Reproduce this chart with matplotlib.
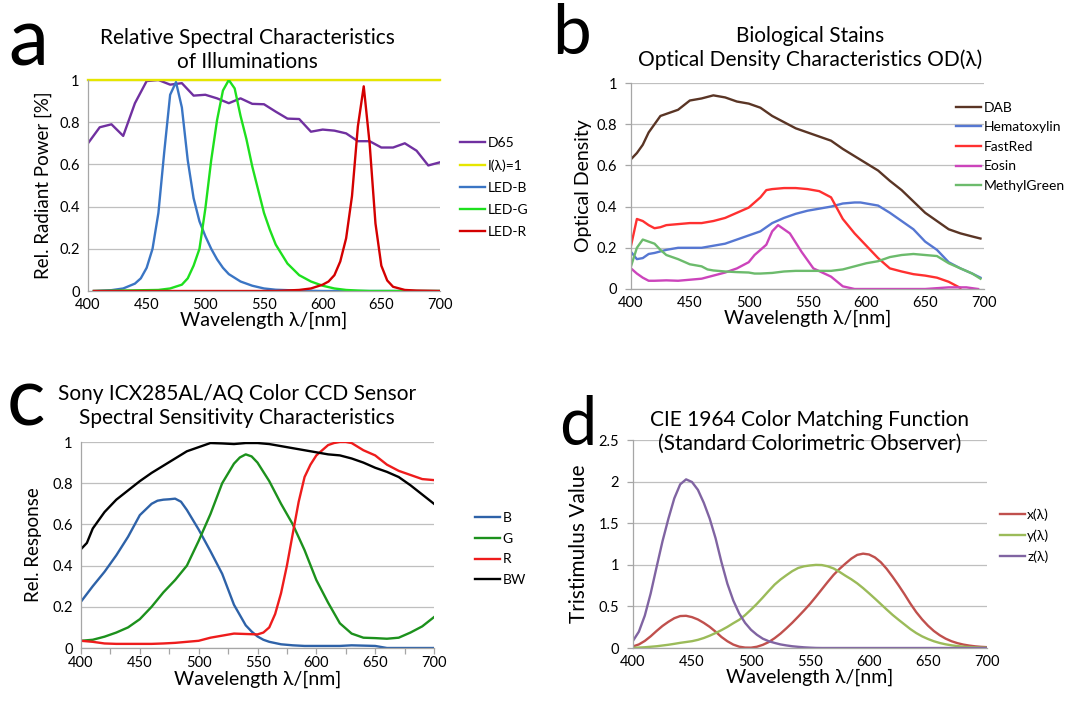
import matplotlib
matplotlib.use('Agg')
import matplotlib.pyplot as plt

plt.rcParams['font.family'] = ['Lato', 'DejaVu Sans']

W, H = 1067, 702

# ---- panel a: illuminations ----
wl_d65 = list(range(400, 701, 10))
d65 = [0.70, 0.776, 0.79, 0.735, 0.89, 0.995, 1.0, 0.978, 0.985, 0.926, 0.93,
       0.913, 0.89, 0.913, 0.887, 0.885, 0.85, 0.817, 0.815, 0.755, 0.765,
       0.76, 0.747, 0.71, 0.71, 0.68, 0.68, 0.70, 0.665, 0.595, 0.61]
wl_flat = [400, 700]
flat = [1.0, 1.0]
wl_led_b = [405, 420, 430, 440, 445, 450, 455, 460, 465, 470, 475, 480, 485,
            490, 495, 500, 505, 510, 515, 520, 530, 540, 550, 560, 580, 600, 700]
led_b = [0.0, 0.004, 0.012, 0.035, 0.06, 0.11, 0.20, 0.37, 0.66, 0.93, 0.99,
         0.87, 0.62, 0.44, 0.33, 0.26, 0.20, 0.15, 0.11, 0.08, 0.045, 0.025,
         0.012, 0.006, 0.002, 0.0, 0.0]
wl_led_g = [405, 460, 470, 480, 485, 490, 495, 500, 505, 510, 515, 520, 525,
            530, 535, 540, 545, 550, 555, 560, 570, 580, 590, 600, 610, 620,
            630, 640, 700]
led_g = [0.0, 0.005, 0.012, 0.03, 0.06, 0.12, 0.20, 0.39, 0.62, 0.81, 0.95,
         1.0, 0.96, 0.83, 0.72, 0.59, 0.48, 0.37, 0.29, 0.22, 0.13, 0.075,
         0.045, 0.025, 0.012, 0.005, 0.002, 0.0, 0.0]
wl_led_r = [405, 560, 580, 590, 600, 605, 610, 615, 620, 625, 630, 635, 640,
            645, 650, 655, 660, 670, 680, 700]
led_r = [0.0, 0.0, 0.005, 0.012, 0.03, 0.045, 0.075, 0.14, 0.25, 0.45, 0.78,
         0.97, 0.70, 0.32, 0.12, 0.05, 0.02, 0.005, 0.002, 0.0]

# ---- panel b: stains ----
wl_dab = [400, 405, 410, 415, 420, 425, 430, 440, 450, 460, 470, 475, 480,
          490, 500, 510, 520, 530, 540, 550, 560, 570, 580, 590, 600, 610,
          620, 630, 640, 650, 660, 670, 680, 690, 697]
dab = [0.63, 0.66, 0.70, 0.76, 0.80, 0.84, 0.85, 0.87, 0.915, 0.925, 0.94,
       0.935, 0.93, 0.91, 0.90, 0.88, 0.84, 0.81, 0.78, 0.76, 0.74, 0.72,
       0.68, 0.645, 0.61, 0.575, 0.525, 0.48, 0.425, 0.37, 0.33, 0.29, 0.27,
       0.255, 0.245]
wl_hema = [400, 405, 410, 415, 420, 430, 440, 450, 460, 470, 480, 490, 500,
           510, 515, 520, 530, 540, 550, 560, 570, 580, 590, 595, 600, 610,
           620, 630, 640, 650, 660, 670, 680, 690, 697]
hema = [0.18, 0.145, 0.15, 0.17, 0.175, 0.19, 0.20, 0.20, 0.20, 0.21, 0.22,
        0.24, 0.26, 0.28, 0.30, 0.32, 0.345, 0.365, 0.38, 0.39, 0.40, 0.415,
        0.42, 0.42, 0.415, 0.405, 0.37, 0.33, 0.29, 0.23, 0.19, 0.13, 0.10,
        0.075, 0.055]
wl_fastred = [400, 405, 410, 415, 420, 425, 430, 440, 450, 460, 470, 480, 490,
              500, 505, 510, 515, 520, 530, 540, 550, 560, 570, 580, 590, 600,
              610, 620, 630, 640, 650, 660, 670, 680]
fastred = [0.21, 0.34, 0.33, 0.31, 0.295, 0.30, 0.31, 0.315, 0.32, 0.32, 0.33,
           0.345, 0.37, 0.395, 0.42, 0.445, 0.48, 0.485, 0.49, 0.49, 0.485,
           0.475, 0.445, 0.34, 0.27, 0.21, 0.15, 0.10, 0.085, 0.072, 0.065,
           0.055, 0.035, 0.005]
wl_eosin = [400, 405, 410, 415, 420, 430, 440, 450, 460, 470, 480, 490, 500,
            505, 510, 515, 520, 525, 535, 545, 555, 570, 580, 590, 650, 670,
            685, 695]
eosin = [0.10, 0.075, 0.055, 0.04, 0.04, 0.042, 0.04, 0.045, 0.05, 0.065,
         0.08, 0.10, 0.13, 0.165, 0.19, 0.215, 0.28, 0.31, 0.27, 0.18, 0.10,
         0.06, 0.013, 0.0, 0.0, 0.008, 0.008, 0.0]
wl_mgreen = [400, 405, 410, 415, 420, 425, 430, 440, 450, 460, 465, 470, 480,
             490, 500, 505, 510, 520, 530, 540, 550, 560, 570, 580, 590, 600,
             610, 620, 630, 640, 650, 660, 670, 680, 690, 697]
mgreen = [0.11, 0.20, 0.24, 0.23, 0.22, 0.19, 0.165, 0.145, 0.12, 0.11, 0.095,
          0.09, 0.085, 0.082, 0.08, 0.075, 0.075, 0.078, 0.085, 0.088, 0.088,
          0.088, 0.088, 0.095, 0.11, 0.125, 0.135, 0.155, 0.165, 0.17, 0.165,
          0.16, 0.125, 0.10, 0.075, 0.05]

# ---- panel c: CCD sensor ----
wl_ccd_b = [400, 410, 420, 430, 440, 450, 460, 465, 470, 475, 480, 485, 490,
            500, 510, 520, 530, 540, 545, 550, 555, 560, 570, 580, 590, 600,
            620, 630, 650, 655, 660, 700]
ccd_b = [0.225, 0.30, 0.37, 0.45, 0.54, 0.645, 0.70, 0.715, 0.72, 0.722, 0.725,
         0.71, 0.67, 0.575, 0.47, 0.36, 0.21, 0.11, 0.08, 0.056, 0.04, 0.03,
         0.018, 0.013, 0.01, 0.01, 0.01, 0.013, 0.01, 0.005, 0.0, 0.0]
wl_ccd_g = [400, 410, 420, 430, 440, 450, 460, 470, 480, 490, 500, 510, 520,
            530, 535, 540, 545, 550, 560, 570, 580, 590, 600, 610, 620, 630,
            640, 650, 660, 670, 680, 690, 700]
ccd_g = [0.035, 0.04, 0.055, 0.075, 0.10, 0.14, 0.20, 0.27, 0.33, 0.40, 0.52,
         0.65, 0.80, 0.895, 0.925, 0.94, 0.93, 0.90, 0.81, 0.70, 0.60, 0.475,
         0.33, 0.22, 0.12, 0.07, 0.05, 0.048, 0.045, 0.05, 0.075, 0.105, 0.15]
wl_ccd_r = [400, 410, 420, 430, 440, 450, 460, 470, 480, 490, 500, 510, 520,
            530, 540, 550, 555, 560, 565, 570, 575, 580, 585, 590, 595, 600,
            610, 615, 620, 625, 630, 640, 650, 660, 670, 680, 690, 700]
ccd_r = [0.035, 0.03, 0.022, 0.02, 0.02, 0.02, 0.02, 0.022, 0.025, 0.03, 0.035,
         0.05, 0.06, 0.07, 0.068, 0.066, 0.075, 0.10, 0.165, 0.266, 0.40,
         0.556, 0.71, 0.83, 0.89, 0.935, 0.985, 0.995, 1.0, 1.0, 0.995, 0.96,
         0.935, 0.89, 0.86, 0.84, 0.82, 0.815]
wl_ccd_bw = [400, 405, 410, 420, 430, 440, 450, 460, 470, 480, 490, 500, 510,
             520, 530, 540, 550, 560, 570, 580, 590, 600, 610, 620, 630, 640,
             650, 660, 670, 680, 690, 700]
ccd_bw = [0.48, 0.51, 0.58, 0.66, 0.72, 0.765, 0.81, 0.85, 0.885, 0.92, 0.955,
          0.975, 0.995, 0.993, 0.99, 0.995, 0.995, 0.99, 0.98, 0.97, 0.96,
          0.95, 0.94, 0.935, 0.92, 0.90, 0.875, 0.855, 0.83, 0.79, 0.745, 0.70]

# ---- panel d: CIE 1964 (5 nm steps) ----
wl_cie = list(range(400, 701, 5))
cie_x = [0.019, 0.043, 0.085, 0.141, 0.205, 0.265, 0.315, 0.358, 0.384, 0.387,
         0.371, 0.343, 0.302, 0.254, 0.196, 0.132, 0.081, 0.041, 0.016, 0.005,
         0.004, 0.015, 0.038, 0.071, 0.118, 0.173, 0.237, 0.304, 0.377, 0.452,
         0.530, 0.616, 0.705, 0.794, 0.879, 0.951, 1.014, 1.074, 1.119, 1.134,
         1.124, 1.089, 1.031, 0.951, 0.856, 0.755, 0.648, 0.535, 0.432, 0.344,
         0.268, 0.204, 0.153, 0.112, 0.081, 0.058, 0.041, 0.029, 0.020, 0.014,
         0.010]
cie_y = [0.002, 0.005, 0.009, 0.015, 0.021, 0.030, 0.039, 0.050, 0.062, 0.072,
         0.082, 0.098, 0.120, 0.148, 0.180, 0.215, 0.254, 0.298, 0.339, 0.395,
         0.461, 0.531, 0.607, 0.686, 0.762, 0.823, 0.875, 0.924, 0.962, 0.982,
         0.992, 0.999, 0.997, 0.982, 0.956, 0.915, 0.869, 0.826, 0.777, 0.720,
         0.658, 0.594, 0.528, 0.462, 0.398, 0.340, 0.284, 0.228, 0.180, 0.140,
         0.108, 0.081, 0.060, 0.044, 0.032, 0.023, 0.016, 0.011, 0.008, 0.005,
         0.004]
cie_z = [0.086, 0.197, 0.389, 0.657, 0.973, 1.283, 1.554, 1.799, 1.967, 2.027,
         1.995, 1.901, 1.745, 1.555, 1.318, 1.030, 0.772, 0.570, 0.415, 0.302,
         0.219, 0.159, 0.112, 0.082, 0.061, 0.043, 0.031, 0.021, 0.014, 0.008,
         0.004, 0.001, 0.0, 0.0, 0.0, 0.0, 0.0, 0.0, 0.0, 0.0, 0.0, 0.0, 0.0,
         0.0, 0.0, 0.0, 0.0, 0.0, 0.0, 0.0, 0.0, 0.0, 0.0, 0.0, 0.0, 0.0, 0.0,
         0.0, 0.0, 0.0, 0.0]

GRID = '#bfbfbf'


def rect(x0, y0, x1, y1):
    """pixel box (top-left origin) -> figure fraction rect"""
    return [x0 / W, 1 - y1 / H, (x1 - x0) / W, (y1 - y0) / H]


def ftext(fig, x, y, s, **kw):
    fig.text(x / W, 1 - y / H, s, ha='center', va='center', **kw)


def style_axes(ax, ymax, ystep, xticks_minor=False):
    ax.set_xlim(400, 700)
    ax.set_ylim(0, ymax)
    ax.set_xticks(range(400, 701, 50))
    yt = [i * ystep for i in range(int(round(ymax / ystep)) + 1)]
    ax.set_yticks(yt)
    ax.set_yticklabels([f'{v:g}' for v in yt])
    ax.grid(axis='y', color=GRID, linewidth=0.9)
    ax.set_axisbelow(True)
    for s in ['top', 'right']:
        ax.spines[s].set_visible(False)
    for s in ['left', 'bottom']:
        ax.spines[s].set_color('#a6a6a6')
        ax.spines[s].set_linewidth(0.9)
    ax.tick_params(labelsize=10.5, colors='#a6a6a6', labelcolor='black',
                   length=4, width=0.9)
    ax.tick_params(axis='x', pad=5)
    ax.tick_params(axis='y', pad=6)
    if xticks_minor:
        ax.set_xticks(range(425, 700, 50), minor=True)
        ax.tick_params(which='minor', length=4, width=0.9, colors='#a6a6a6')
    ax.set_xlabel('Wavelength λ/[nm]', fontsize=14, labelpad=0)


fig = plt.figure(figsize=(W / 100, H / 100), dpi=100)
LW = 1.7

# panel a
ax = fig.add_axes(rect(88, 80, 440, 291))
ax.plot(wl_d65, d65, color='#7030a0', lw=LW, label='D65')
ax.plot(wl_flat, flat, color='#e6e600', lw=LW, label='I(λ)=1', clip_on=False)
ax.plot(wl_led_b, led_b, color='#3a75c4', lw=LW, label='LED-B')
ax.plot(wl_led_g, led_g, color='#1ee01e', lw=LW, label='LED-G')
ax.plot(wl_led_r, led_r, color='#d40000', lw=LW, label='LED-R')
style_axes(ax, 1.0, 0.2)
ax.tick_params(length=0)
ax.set_ylabel('Rel. Radiant Power [%]', fontsize=13.5, labelpad=5)
ax.legend(loc='center left', bbox_to_anchor=(1.02, 0.49), frameon=False,
          fontsize=10, handlelength=1.8, handletextpad=0.2, labelspacing=0.72)
ftext(fig, 247, 50, 'Relative Spectral Characteristics\nof Illuminations',
      fontsize=15, linespacing=1.25)
ftext(fig, 28, 42, 'a', fontsize=58)

# panel b
ax = fig.add_axes(rect(631, 83, 984, 289))
ax.plot(wl_dab, dab, color='#5a3525', lw=LW, label='DAB')
ax.plot(wl_hema, hema, color='#5677d2', lw=LW, label='Hematoxylin')
ax.plot(wl_fastred, fastred, color='#ff3030', lw=LW, label='FastRed')
ax.plot(wl_eosin, eosin, color='#cc44bb', lw=LW, label='Eosin')
ax.plot(wl_mgreen, mgreen, color='#6cbb6c', lw=LW, label='MethylGreen')
style_axes(ax, 1.0, 0.2)
ax.tick_params(axis='x', length=0)
ax.set_ylabel('Optical Density', fontsize=14, labelpad=3)
ax.legend(loc='center left', bbox_to_anchor=(0.885, 0.69), frameon=False,
          fontsize=10, handlelength=1.8, handletextpad=0.2, labelspacing=0.55)
ftext(fig, 810, 48, 'Biological Stains\nOptical Density Characteristics OD(λ)',
      fontsize=15, linespacing=1.2)
ftext(fig, 572, 35, 'b', fontsize=50)

# panel c
ax = fig.add_axes(rect(81, 442, 434, 648))
ax.plot(wl_ccd_b, ccd_b, color='#2e62a8', lw=LW, label='B')
ax.plot(wl_ccd_g, ccd_g, color='#1c911c', lw=LW, label='G')
ax.plot(wl_ccd_r, ccd_r, color='#ee1c1c', lw=LW, label='R')
ax.plot(wl_ccd_bw, ccd_bw, color='black', lw=LW, label='BW')
style_axes(ax, 1.0, 0.2, xticks_minor=True)
ax.tick_params(axis='y', length=0)
ax.tick_params(axis='x', pad=2)
ax.set_ylabel('Rel. Response', fontsize=13.5, labelpad=7)
ax.legend(loc='center left', bbox_to_anchor=(1.08, 0.48), frameon=False,
          fontsize=10, handlelength=1.8, handletextpad=0.2, labelspacing=0.62)
ftext(fig, 237, 406, 'Sony ICX285AL/AQ Color CCD Sensor\nSpectral Sensitivity Characteristics',
      fontsize=15, linespacing=1.2)
ftext(fig, 26, 403, 'c', fontsize=58)

# panel d
ax = fig.add_axes(rect(633, 440, 987, 648))
ax.plot(wl_cie, cie_x, color='#c0504d', lw=LW, label='x(λ)')
ax.plot(wl_cie, cie_y, color='#9bbb59', lw=LW, label='y(λ)')
ax.plot(wl_cie, cie_z, color='#8064a2', lw=LW, label='z(λ)')
style_axes(ax, 2.5, 0.5)
ax.tick_params(axis='x', length=0)
ax.set_ylabel('Tristimulus Value', fontsize=15, labelpad=7)
ax.legend(loc='center left', bbox_to_anchor=(1.0, 0.54), frameon=False,
          fontsize=10, handlelength=1.8, handletextpad=0.2, labelspacing=0.62)
ftext(fig, 810, 432, 'CIE 1964 Color Matching Function\n(Standard Colorimetric Observer)',
      fontsize=15, linespacing=1.2)
ftext(fig, 578, 426, 'd', fontsize=48)

fig.savefig('out.png', dpi=100)
